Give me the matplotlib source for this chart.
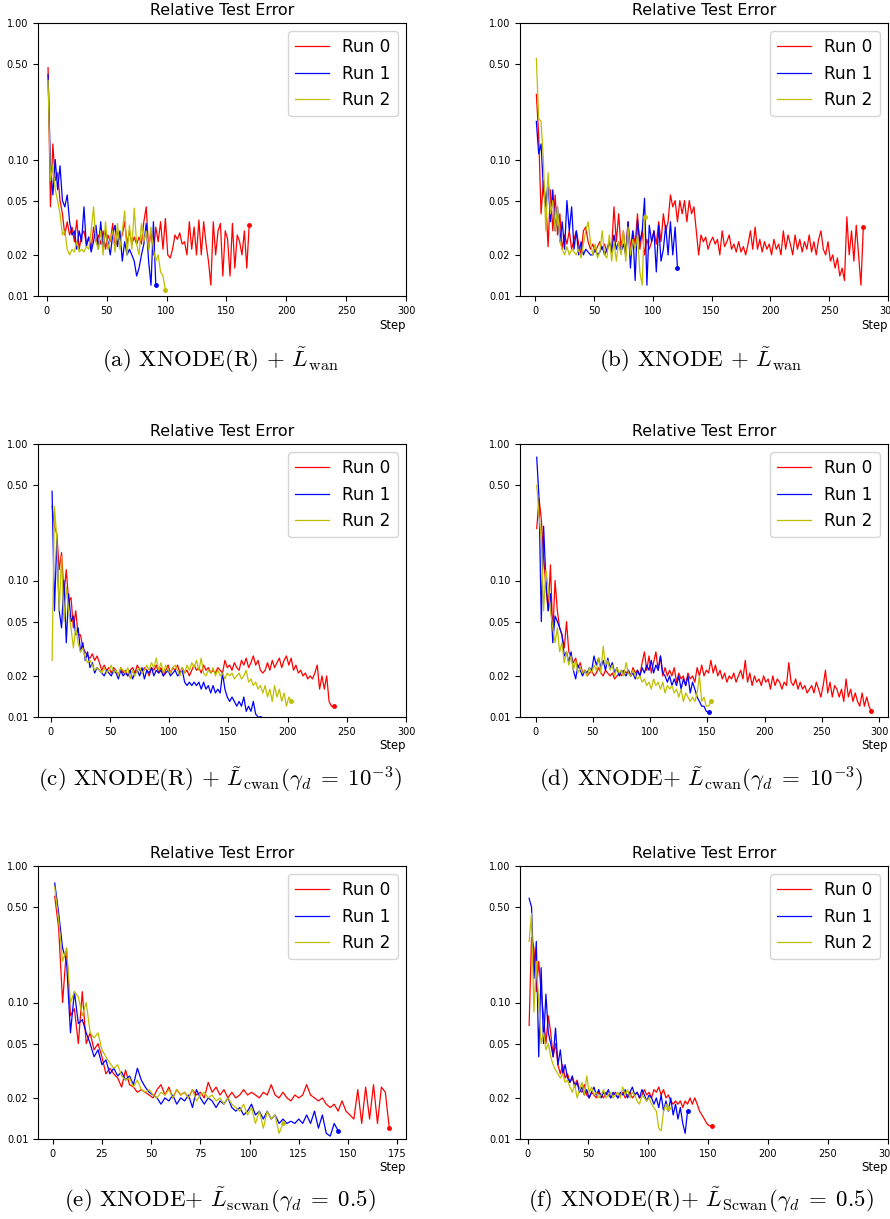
import numpy as np
import matplotlib
matplotlib.use("Agg")
import matplotlib.pyplot as plt
from matplotlib.ticker import NullLocator

plt.rcParams['mathtext.fontset'] = 'cm'

# relative test error per run, read every 2nd step (steps 1, 3, 5, ...)
a_run0 = [0.47, 0.045, 0.13, 0.07, 0.08, 0.05, 0.04, 0.028, 0.035, 0.028,
          0.032, 0.025, 0.036, 0.022, 0.028, 0.03, 0.024, 0.027, 0.022, 0.032,
          0.025, 0.028, 0.024, 0.03, 0.022, 0.028, 0.025, 0.034, 0.022, 0.03,
          0.026, 0.028, 0.035, 0.024, 0.03, 0.024, 0.027, 0.024, 0.027, 0.024,
          0.035, 0.045, 0.022, 0.03, 0.02, 0.032, 0.025, 0.035, 0.022, 0.037,
          0.02, 0.019, 0.022, 0.028, 0.026, 0.029, 0.024, 0.025, 0.02, 0.035,
          0.022, 0.032, 0.02, 0.036, 0.02, 0.035, 0.024, 0.018, 0.012, 0.035,
          0.02, 0.03, 0.034, 0.014, 0.03, 0.026, 0.014, 0.034, 0.016, 0.028,
          0.025, 0.02, 0.03, 0.016, 0.033]
a_run1 = [0.42, 0.09, 0.055, 0.1, 0.06, 0.09, 0.05, 0.045, 0.055, 0.035,
          0.028, 0.03, 0.022, 0.03, 0.025, 0.045, 0.023, 0.027, 0.021, 0.025,
          0.033, 0.022, 0.035, 0.022, 0.03, 0.025, 0.02, 0.028, 0.033, 0.023,
          0.03, 0.018, 0.025, 0.02, 0.022, 0.02, 0.018, 0.014, 0.016, 0.02,
          0.024, 0.034, 0.018, 0.012, 0.035, 0.012]
a_run2 = [0.38, 0.07, 0.09, 0.06, 0.05, 0.04, 0.028, 0.03, 0.022, 0.02,
          0.022, 0.021, 0.025, 0.021, 0.022, 0.021, 0.023, 0.022, 0.03, 0.045,
          0.025, 0.022, 0.03, 0.02, 0.035, 0.022, 0.026, 0.03, 0.021, 0.034,
          0.022, 0.03, 0.042, 0.02, 0.033, 0.022, 0.044, 0.024, 0.02, 0.034,
          0.025, 0.03, 0.022, 0.032, 0.022, 0.018, 0.02, 0.015, 0.014, 0.011]

b_run0 = [0.3, 0.15, 0.04, 0.07, 0.05, 0.023, 0.06, 0.03, 0.055, 0.028,
          0.04, 0.022, 0.028, 0.024, 0.03, 0.022, 0.026, 0.03, 0.024, 0.02,
          0.03, 0.032, 0.025, 0.022, 0.024, 0.021, 0.023, 0.025, 0.022, 0.024,
          0.021, 0.025, 0.022, 0.045, 0.025, 0.04, 0.022, 0.03, 0.02, 0.035,
          0.022, 0.03, 0.024, 0.04, 0.022, 0.03, 0.02, 0.026, 0.022, 0.025,
          0.03, 0.024, 0.035, 0.025, 0.04, 0.03, 0.035, 0.055, 0.045, 0.05,
          0.035, 0.05, 0.04, 0.05, 0.035, 0.05, 0.04, 0.045, 0.03, 0.02,
          0.028, 0.025, 0.027, 0.022, 0.025, 0.027, 0.024, 0.026, 0.02, 0.03,
          0.023, 0.025, 0.028, 0.022, 0.024, 0.021, 0.025, 0.021, 0.023, 0.02,
          0.024, 0.03, 0.022, 0.032, 0.022, 0.026, 0.021, 0.025, 0.022, 0.024,
          0.02, 0.026, 0.022, 0.024, 0.02, 0.03, 0.022, 0.028, 0.024, 0.02,
          0.028, 0.022, 0.026, 0.021, 0.025, 0.022, 0.028, 0.021, 0.025, 0.02,
          0.026, 0.03, 0.022, 0.02, 0.025, 0.018, 0.02, 0.016, 0.019, 0.014,
          0.016, 0.013, 0.038, 0.02, 0.03, 0.018, 0.033, 0.02, 0.012, 0.032]
b_run1 = [0.19, 0.11, 0.13, 0.06, 0.045, 0.07, 0.035, 0.06, 0.03, 0.045,
          0.025, 0.035, 0.022, 0.05, 0.03, 0.045, 0.022, 0.03, 0.02, 0.025,
          0.02, 0.022, 0.021, 0.02, 0.02, 0.022, 0.02, 0.021, 0.023, 0.02,
          0.022, 0.025, 0.021, 0.028, 0.022, 0.025, 0.021, 0.024, 0.02, 0.035,
          0.016, 0.03, 0.013, 0.036, 0.025, 0.03, 0.052, 0.012, 0.033, 0.025,
          0.03, 0.015, 0.033, 0.018, 0.022, 0.033, 0.02, 0.035, 0.02, 0.032,
          0.016]
b_run2 = [0.55, 0.2, 0.19, 0.1, 0.03, 0.08, 0.04, 0.05, 0.03, 0.045,
          0.025, 0.022, 0.02, 0.023, 0.02, 0.022, 0.021, 0.02, 0.022, 0.019,
          0.024, 0.03, 0.035, 0.025, 0.02, 0.024, 0.019, 0.021, 0.03, 0.02,
          0.019, 0.028, 0.018, 0.025, 0.018, 0.025, 0.02, 0.03, 0.018, 0.032,
          0.02, 0.026, 0.022, 0.028, 0.015, 0.012, 0.038]

c_run0 = [0.35, 0.25, 0.22, 0.12, 0.16, 0.08, 0.12, 0.07, 0.075, 0.045,
          0.06, 0.04, 0.04, 0.032, 0.03, 0.028, 0.027, 0.029, 0.026, 0.028,
          0.025, 0.022, 0.024, 0.022, 0.023, 0.021, 0.023, 0.022, 0.02, 0.023,
          0.021, 0.022, 0.02, 0.022, 0.023, 0.021, 0.024, 0.022, 0.021, 0.023,
          0.022, 0.02, 0.023, 0.022, 0.024, 0.021, 0.023, 0.02, 0.022, 0.024,
          0.021, 0.023, 0.022, 0.024, 0.021, 0.023, 0.021, 0.022, 0.02, 0.022,
          0.024, 0.022, 0.023, 0.021, 0.024, 0.022, 0.023, 0.021, 0.022, 0.021,
          0.023, 0.022, 0.021, 0.026, 0.023, 0.024, 0.022, 0.025, 0.023, 0.022,
          0.026, 0.024, 0.027, 0.023, 0.025, 0.028, 0.024, 0.026, 0.022, 0.021,
          0.022, 0.025, 0.022, 0.026, 0.023, 0.025, 0.027, 0.023, 0.026, 0.028,
          0.024, 0.027, 0.022, 0.024, 0.021, 0.022, 0.02, 0.021, 0.019, 0.02,
          0.019, 0.021, 0.024, 0.016, 0.02, 0.016, 0.02, 0.013, 0.012, 0.012]
c_run1 = [0.45, 0.06, 0.2, 0.06, 0.045, 0.1, 0.035, 0.08, 0.05, 0.055,
          0.04, 0.045, 0.03, 0.035, 0.026, 0.03, 0.023, 0.025, 0.021, 0.023,
          0.022, 0.021, 0.02, 0.022, 0.021, 0.02, 0.022, 0.021, 0.019, 0.022,
          0.02, 0.021, 0.02, 0.022, 0.019, 0.021, 0.022, 0.02, 0.023, 0.019,
          0.022, 0.021, 0.023, 0.02, 0.022, 0.021, 0.022, 0.02, 0.021, 0.022,
          0.02, 0.021, 0.022, 0.02, 0.021, 0.022, 0.018, 0.017, 0.018, 0.017,
          0.018, 0.017, 0.018, 0.016, 0.018, 0.016, 0.017, 0.015, 0.017, 0.015,
          0.016, 0.015, 0.021, 0.016, 0.014, 0.013, 0.014, 0.013, 0.012, 0.013,
          0.012, 0.014, 0.011, 0.012, 0.011, 0.013, 0.0105, 0.01, 0.0098]
c_run2 = [0.026, 0.35, 0.2, 0.06, 0.15, 0.05, 0.09, 0.06, 0.045, 0.032,
          0.045, 0.035, 0.03, 0.032, 0.027, 0.025, 0.026, 0.024, 0.022, 0.023,
          0.022, 0.021, 0.023, 0.021, 0.022, 0.024, 0.021, 0.022, 0.02, 0.023,
          0.022, 0.021, 0.023, 0.019, 0.022, 0.02, 0.022, 0.023, 0.021, 0.022,
          0.024, 0.022, 0.025, 0.023, 0.027, 0.022, 0.025, 0.021, 0.024, 0.022,
          0.021, 0.023, 0.024, 0.022, 0.02, 0.023, 0.021, 0.024, 0.022, 0.025,
          0.023, 0.026, 0.022, 0.027, 0.021, 0.02, 0.022, 0.021, 0.023, 0.02,
          0.022, 0.02, 0.021, 0.019, 0.021, 0.02, 0.021, 0.019, 0.02, 0.021,
          0.019, 0.02, 0.022, 0.018, 0.019, 0.017, 0.018, 0.016, 0.017, 0.015,
          0.017, 0.014, 0.016, 0.013, 0.017, 0.014, 0.016, 0.013, 0.015, 0.012,
          0.014, 0.013]

d_run0 = [0.24, 0.4, 0.28, 0.15, 0.09, 0.06, 0.13, 0.04, 0.1, 0.06,
          0.045, 0.04, 0.032, 0.05, 0.03, 0.028, 0.025, 0.027, 0.023, 0.025,
          0.021, 0.022, 0.02, 0.021, 0.022, 0.02, 0.021, 0.023, 0.021, 0.02,
          0.022, 0.021, 0.02, 0.021, 0.019, 0.02, 0.021, 0.02, 0.022, 0.021,
          0.022, 0.02, 0.023, 0.021, 0.022, 0.02, 0.025, 0.03, 0.022, 0.028,
          0.021, 0.025, 0.03, 0.022, 0.028, 0.02, 0.023, 0.02, 0.022, 0.02,
          0.023, 0.018, 0.021, 0.019, 0.02, 0.017, 0.021, 0.019, 0.02, 0.018,
          0.023, 0.02, 0.024, 0.02, 0.022, 0.021, 0.026, 0.021, 0.024, 0.02,
          0.022, 0.019, 0.021, 0.018, 0.02, 0.019, 0.021, 0.018, 0.02, 0.022,
          0.019, 0.026, 0.018, 0.021, 0.017, 0.02, 0.018, 0.019, 0.017, 0.02,
          0.018, 0.019, 0.016, 0.02, 0.017, 0.019, 0.018, 0.016, 0.018, 0.017,
          0.025, 0.018, 0.017, 0.019, 0.016, 0.018, 0.016, 0.017, 0.015, 0.016,
          0.017, 0.015, 0.018, 0.016, 0.014, 0.017, 0.022, 0.015, 0.018, 0.014,
          0.017, 0.016, 0.014, 0.016, 0.013, 0.019, 0.014, 0.016, 0.013, 0.015,
          0.013, 0.012, 0.015, 0.012, 0.014, 0.012, 0.011]
d_run1 = [0.8, 0.4, 0.05, 0.25, 0.1, 0.06, 0.08, 0.035, 0.055, 0.05,
          0.045, 0.04, 0.028, 0.03, 0.025, 0.03, 0.022, 0.019, 0.024, 0.022,
          0.02, 0.022, 0.021, 0.023, 0.022, 0.028, 0.024, 0.027, 0.023, 0.026,
          0.022, 0.027, 0.023, 0.025, 0.021, 0.023, 0.02, 0.022, 0.021, 0.02,
          0.022, 0.02, 0.021, 0.019, 0.022, 0.02, 0.023, 0.021, 0.024, 0.022,
          0.026, 0.021, 0.024, 0.022, 0.028, 0.021, 0.02, 0.018, 0.02, 0.017,
          0.019, 0.017, 0.02, 0.016, 0.019, 0.017, 0.02, 0.015, 0.018, 0.016,
          0.014, 0.013, 0.012, 0.012, 0.011, 0.0108]
d_run2 = [0.5, 0.3, 0.2, 0.06, 0.12, 0.09, 0.06, 0.045, 0.035, 0.045,
          0.03, 0.035, 0.025, 0.03, 0.024, 0.028, 0.022, 0.026, 0.021, 0.023,
          0.021, 0.022, 0.02, 0.023, 0.021, 0.024, 0.022, 0.027, 0.021, 0.033,
          0.024, 0.026, 0.022, 0.024, 0.02, 0.023, 0.021, 0.022, 0.02, 0.025,
          0.021, 0.02, 0.022, 0.02, 0.019, 0.02, 0.018, 0.019, 0.017, 0.018,
          0.016, 0.019, 0.017, 0.018, 0.016, 0.018, 0.015, 0.017, 0.016, 0.017,
          0.015, 0.016, 0.014, 0.016, 0.013, 0.015, 0.014, 0.013, 0.014, 0.013,
          0.015, 0.02, 0.013, 0.014, 0.012, 0.012, 0.013]

e_run0 = [0.6, 0.35, 0.1, 0.25, 0.08, 0.09, 0.05, 0.12, 0.05, 0.06,
          0.045, 0.05, 0.04, 0.03, 0.033, 0.03, 0.028, 0.024, 0.032, 0.025,
          0.024, 0.022, 0.023, 0.022, 0.021, 0.02, 0.023, 0.025, 0.021, 0.024,
          0.02, 0.023, 0.021, 0.022, 0.02, 0.023, 0.021, 0.022, 0.02, 0.026,
          0.022, 0.024, 0.021, 0.023, 0.02, 0.022, 0.02, 0.021, 0.023, 0.021,
          0.022, 0.021, 0.02, 0.022, 0.021, 0.025, 0.021, 0.02, 0.022, 0.02,
          0.019, 0.021, 0.02, 0.021, 0.025, 0.021, 0.02, 0.019, 0.02, 0.018,
          0.017, 0.018, 0.016, 0.019, 0.016, 0.015, 0.014, 0.023, 0.013, 0.024,
          0.014, 0.025, 0.013, 0.024, 0.022, 0.012]
e_run1 = [0.75, 0.45, 0.25, 0.2, 0.06, 0.12, 0.07, 0.075, 0.06, 0.05,
          0.04, 0.045, 0.035, 0.038, 0.03, 0.033, 0.029, 0.031, 0.027, 0.029,
          0.025, 0.033, 0.027, 0.024, 0.022, 0.021, 0.02, 0.018, 0.02, 0.019,
          0.021, 0.018, 0.02, 0.019, 0.021, 0.017, 0.023, 0.02, 0.018, 0.02,
          0.019, 0.017, 0.019, 0.018, 0.02, 0.017, 0.016, 0.017, 0.015, 0.016,
          0.018, 0.015, 0.016, 0.014, 0.016, 0.014, 0.015, 0.013, 0.014, 0.013,
          0.0135, 0.013, 0.014, 0.013, 0.015, 0.013, 0.016, 0.012, 0.015, 0.011,
          0.0105, 0.013, 0.0115]
e_run2 = [0.7, 0.4, 0.2, 0.25, 0.1, 0.12, 0.11, 0.08, 0.1, 0.06,
          0.055, 0.06, 0.045, 0.04, 0.036, 0.033, 0.035, 0.029, 0.027, 0.028,
          0.024, 0.027, 0.023, 0.022, 0.023, 0.021, 0.02, 0.022, 0.021, 0.023,
          0.02, 0.023, 0.021, 0.022, 0.02, 0.023, 0.019, 0.021, 0.022, 0.02,
          0.021, 0.019, 0.02, 0.018, 0.02, 0.018, 0.017, 0.016, 0.018, 0.015,
          0.017, 0.013, 0.016, 0.012, 0.016, 0.014, 0.015, 0.011, 0.013]

f_run0 = [0.068, 0.3, 0.25, 0.12, 0.2, 0.12, 0.08, 0.05, 0.08, 0.06,
          0.04, 0.05, 0.035, 0.03, 0.035, 0.028, 0.03, 0.026, 0.028, 0.025,
          0.027, 0.023, 0.022, 0.025, 0.021, 0.02, 0.022, 0.021, 0.02, 0.022,
          0.021, 0.02, 0.022, 0.021, 0.02, 0.021, 0.022, 0.02, 0.021, 0.022,
          0.02, 0.021, 0.022, 0.02, 0.021, 0.022, 0.02, 0.021, 0.023, 0.021,
          0.022, 0.02, 0.023, 0.022, 0.024, 0.021, 0.023, 0.02, 0.021, 0.019,
          0.018, 0.019, 0.018, 0.019, 0.017, 0.019, 0.018, 0.02, 0.018, 0.02,
          0.018, 0.016, 0.015, 0.014, 0.013, 0.0125, 0.0125]
f_run1 = [0.58, 0.5, 0.15, 0.28, 0.04, 0.18, 0.05, 0.115, 0.06, 0.05,
          0.04, 0.065, 0.035, 0.045, 0.03, 0.035, 0.028, 0.026, 0.029, 0.024,
          0.026, 0.022, 0.024, 0.021, 0.023, 0.02, 0.022, 0.024, 0.021, 0.023,
          0.02, 0.022, 0.021, 0.023, 0.02, 0.022, 0.021, 0.02, 0.022, 0.021,
          0.023, 0.02, 0.022, 0.024, 0.021, 0.022, 0.02, 0.023, 0.021, 0.019,
          0.021, 0.02, 0.018, 0.02, 0.017, 0.021, 0.016, 0.019, 0.016, 0.02,
          0.015, 0.018, 0.014, 0.017, 0.013, 0.011, 0.016]
f_run2 = [0.28, 0.45, 0.085, 0.2, 0.1, 0.05, 0.06, 0.045, 0.05, 0.04,
          0.035, 0.032, 0.03, 0.028, 0.03, 0.026, 0.027, 0.024, 0.022, 0.025,
          0.02, 0.023, 0.026, 0.021, 0.029, 0.022, 0.024, 0.021, 0.022, 0.02,
          0.021, 0.023, 0.02, 0.021, 0.022, 0.02, 0.021, 0.022, 0.02, 0.024,
          0.021, 0.023, 0.02, 0.022, 0.021, 0.019, 0.018, 0.021, 0.02, 0.019,
          0.02, 0.018, 0.017, 0.016, 0.012, 0.0115, 0.016, 0.018, 0.017]

captions = [
    r"(a) XNODE(R) + $\tilde{L}_{\rm wan}$",
    r"(b) XNODE + $\tilde{L}_{\rm wan}$",
    r"(c) XNODE(R) + $\tilde{L}_{\rm cwan}(\gamma_d\;=\;10^{-3})$",
    r"(d) XNODE+ $\tilde{L}_{\rm cwan}(\gamma_d\;=\;10^{-3})$",
    r"(e) XNODE+ $\tilde{L}_{\rm scwan}(\gamma_d\;=\;0.5)$",
    r"(f) XNODE(R)+ $\tilde{L}_{\rm Scwan}(\gamma_d\;=\;0.5)$",
]
run_labels = ["Run 0", "Run 1", "Run 2"]
y_ticks = [0.01, 0.02, 0.05, 0.10, 0.50, 1.00]
y_tick_labels = ["0.01", "0.02", "0.05", "0.10", "0.50", "1.00"]
x_ticks_300 = [0, 50, 100, 150, 200, 250, 300]
x_ticks_175 = [0, 25, 50, 75, 100, 125, 150, 175]

all_runs = [
    [a_run0, a_run1, a_run2],
    [b_run0, b_run1, b_run2],
    [c_run0, c_run1, c_run2],
    [d_run0, d_run1, d_run2],
    [e_run0, e_run1, e_run2],
    [f_run0, f_run1, f_run2],
]
x_right = [300, 300, 300, None, None, 300]
x_ticks = [x_ticks_300] * 4 + [x_ticks_175, x_ticks_300]

colors = ['r', 'b', 'y']
W, H = 890, 1219
fig = plt.figure(figsize=(W / 100, H / 100), dpi=100)

col_left = [38, 520]
ax_w = 368
row_top = [23, 444, 866]
ax_h = 273
cap_base = [367, 786, 1207]
cap_x = [220, 701]

for i, runs in enumerate(all_runs):
    r, c = divmod(i, 2)
    ax = fig.add_axes([col_left[c] / W, 1 - (row_top[r] + ax_h) / H,
                       ax_w / W, ax_h / H])
    for vals, col, lab in zip(runs, colors, run_labels):
        steps = 1 + 2 * np.arange(len(vals))
        ax.plot(steps, vals, color=col, lw=0.9, label=lab)
        ax.plot(steps[-1], vals[-1], 'o', color=col, ms=2.5)
    ax.set_yscale('log')
    ax.set_ylim(0.01, 1.0)
    ax.set_yticks(y_ticks)
    ax.set_yticklabels(y_tick_labels)
    ax.yaxis.set_minor_locator(NullLocator())
    ax.set_xticks(x_ticks[i])
    if x_right[i] is not None:
        ax.set_xlim(right=x_right[i])
    ax.tick_params(labelsize=7)
    ax.set_title("Relative Test Error", fontsize=11.4)
    ax.set_xlabel("Step", loc='right', fontsize=8.4, labelpad=2)
    ax.legend(loc='upper right', fontsize=12.2)
    fig.text(cap_x[c] / W, 1 - cap_base[r] / H, captions[i],
             ha='center', va='baseline', fontsize=16.5, family='cmr10')

fig.savefig("out.png", dpi=100)
